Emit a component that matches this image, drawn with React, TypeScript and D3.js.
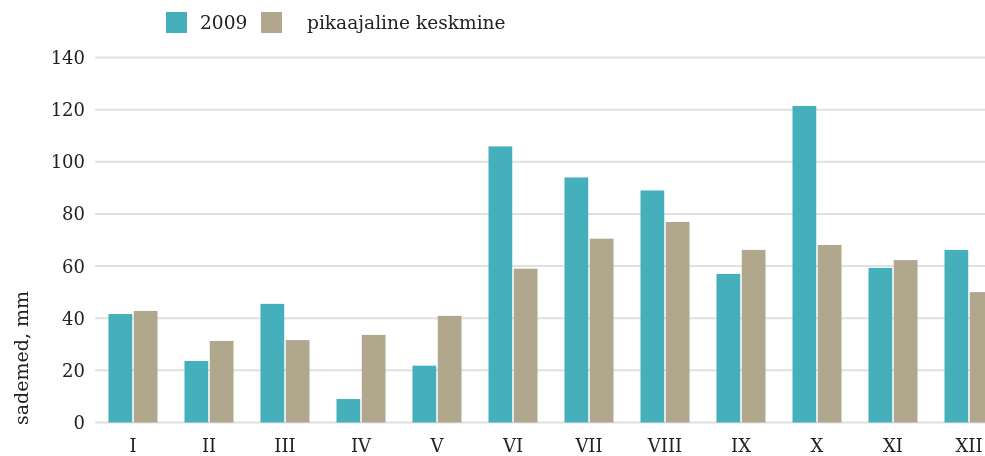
import React, { useEffect, useRef } from "react";
import * as d3 from "d3";

const months = ["I", "II", "III", "IV", "V", "VI", "VII", "VIII", "IX", "X", "XI", "XII"];
const series = ["2009", "pikaajaline keskmine"];
const values2009 = [41.6, 23.6, 45.5, 9.0, 21.8, 105.9, 94.0, 89.0, 57.0, 121.4, 59.3, 66.2];
const valuesAvg = [42.8, 31.3, 31.6, 33.6, 40.9, 59.0, 70.5, 76.9, 66.2, 68.1, 62.3, 50.0];
const yTicks = [0, 20, 40, 60, 80, 100, 120, 140];
const colors = ["#46afbc", "#b0a78d"];

const W = 985;
const H = 456;
const FONT = "'DejaVu Serif', serif";

export default function App() {
  const ref = useRef<SVGSVGElement>(null);

  useEffect(() => {
    const svg = d3.select(ref.current).html(null);

    const y = d3.scaleLinear().domain([0, 140]).range([422.5, 57.5]);
    // plot runs a little past the right edge, last bar is cut off
    const x = d3.scaleBand().domain(months).range([95, 1007]).paddingInner(0.355).paddingOuter(0.1775);
    const x1 = d3.scaleBand().domain(series).range([0, x.bandwidth()]).paddingInner(0.06);

    svg
      .append("g")
      .selectAll("line")
      .data(yTicks)
      .enter()
      .append("line")
      .attr("x1", 95)
      .attr("x2", W)
      .attr("y1", (d) => y(d))
      .attr("y2", (d) => y(d))
      .attr("stroke", "#e0e0e0")
      .attr("stroke-width", 2);

    svg
      .append("g")
      .selectAll("text")
      .data(yTicks)
      .enter()
      .append("text")
      .attr("x", 85)
      .attr("y", (d) => y(d))
      .attr("dy", "0.36em")
      .attr("text-anchor", "end")
      .attr("font-family", FONT)
      .attr("font-size", 18)
      .attr("fill", "#222")
      .text((d) => d);

    const data = months.map((m, i) => ({ m, vals: [values2009[i], valuesAvg[i]] }));

    const groups = svg
      .append("g")
      .selectAll("g")
      .data(data)
      .enter()
      .append("g")
      .attr("transform", (d) => `translate(${x(d.m)},0)`);

    groups
      .selectAll("rect")
      .data((d) => d.vals.map((v, j) => ({ key: series[j], v, j })))
      .enter()
      .append("rect")
      .attr("x", (d) => x1(d.key)!)
      .attr("width", x1.bandwidth())
      .attr("y", (d) => y(d.v))
      .attr("height", (d) => y(0) - y(d.v))
      .attr("fill", (d) => colors[d.j]);

    svg
      .append("g")
      .selectAll("text")
      .data(months)
      .enter()
      .append("text")
      .attr("x", (d) => x(d)! + x.bandwidth() / 2)
      .attr("y", 452)
      .attr("text-anchor", "middle")
      .attr("font-family", FONT)
      .attr("font-size", 18)
      .attr("fill", "#222")
      .text((d) => d);

    svg
      .append("text")
      .attr("transform", "translate(28,425) rotate(-90)")
      .attr("text-anchor", "start")
      .attr("font-family", FONT)
      .attr("font-size", 19)
      .attr("fill", "#222")
      .text("sademed, mm");

    const legendX = [166, 261];
    const textX = [200, 307];
    series.forEach((s, i) => {
      svg
        .append("rect")
        .attr("x", legendX[i])
        .attr("y", 12)
        .attr("width", 21)
        .attr("height", 21)
        .attr("fill", colors[i]);
      svg
        .append("text")
        .attr("x", textX[i])
        .attr("y", 29)
        .attr("font-family", FONT)
        .attr("font-size", 18.6)
        .attr("fill", "#222")
        .text(s);
    });
  }, []);

  return (
    <div style={{ position: "fixed", left: 0, top: 0, width: W, height: H, overflow: "hidden" }}>
      <svg ref={ref} width={W} height={H} style={{ display: "block" }}></svg>
    </div>
  );
}
